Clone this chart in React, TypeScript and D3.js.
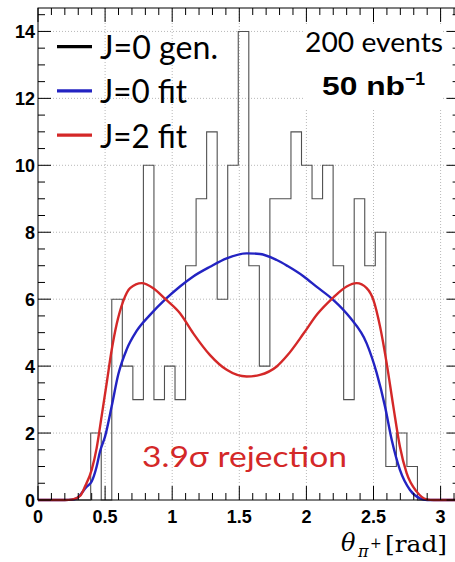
import React from "react";
import * as d3 from "d3";

// histogram of generated J=0 events, 40 bins of width pi/40
const binCounts = [0, 0, 0, 0, 0, 2, 0, 6, 4, 3, 10, 3, 4, 3, 7, 9, 11, 6, 10, 14, 7, 4, 9, 9, 11, 10, 9, 10, 7, 3, 9, 7, 8, 1, 2, 1, 0, 0, 0, 0];

// J=0 fit curve
const j0X = [0, 0.2, 0.25, 0.288, 0.363, 0.4, 0.437, 0.462, 0.5, 0.549, 0.598, 0.661, 0.735, 0.835, 0.95, 1.058, 1.157, 1.282, 1.406, 1.555, 1.654, 1.779, 1.86, 1.98, 2.08, 2.2, 2.325, 2.449, 2.524, 2.586, 2.636, 2.697, 2.772, 2.846, 2.9, 3.1416];
const j0Y = [0, 0, 0.01, 0.05, 0.4, 0.55, 1.0, 1.45, 1.9, 2.8, 3.75, 4.5, 5.05, 5.53, 6.0, 6.38, 6.68, 6.97, 7.22, 7.37, 7.35, 7.17, 6.99, 6.68, 6.36, 5.98, 5.45, 4.68, 3.79, 2.79, 1.79, 0.9, 0.3, 0.05, 0, 0];

// J=2 fit curve
const j2X = [0, 0.2, 0.26, 0.313, 0.35, 0.4, 0.437, 0.474, 0.512, 0.549, 0.586, 0.636, 0.686, 0.773, 0.859, 0.95, 1.058, 1.157, 1.282, 1.406, 1.555, 1.654, 1.779, 1.86, 1.98, 2.08, 2.2, 2.3, 2.375, 2.449, 2.499, 2.549, 2.598, 2.648, 2.697, 2.747, 2.822, 2.896, 2.95, 3.1416];
const j2Y = [0, 0, 0.02, 0.12, 0.4, 0.9, 1.55, 2.5, 3.5, 4.48, 5.25, 5.95, 6.33, 6.48, 6.33, 6.0, 5.58, 4.98, 4.33, 3.89, 3.69, 3.74, 3.99, 4.33, 4.98, 5.55, 6.05, 6.38, 6.48, 6.33, 5.98, 5.18, 4.09, 2.79, 1.59, 0.8, 0.25, 0.02, 0, 0];

const xTickLabels = ["0", "0.5", "1", "1.5", "2", "2.5", "3"];
const yTickLabels = ["0", "2", "4", "6", "8", "10", "12", "14"];

const legendItems = [
  { label: "J=0 gen.", color: "#000000", width: 118 },
  { label: "J=0 fit", color: "#2323c2", width: 87 },
  { label: "J=2 fit", color: "#d42828", width: 87 },
];

const BLUE = "#2323c2";
const RED = "#d42828";

export default function App() {
  const left = 38, top = 8, bottom = 500;
  const x = d3.scaleLinear().domain([0, Math.PI]).range([left, left + 134.2 * Math.PI]);
  const y = d3.scaleLinear().domain([0, 14.7]).range([bottom, top]);
  const right = x(Math.PI);

  const binW = Math.PI / binCounts.length;
  const histPts: [number, number][] = binCounts.map((c, i) => [i * binW, c]);
  histPts.push([Math.PI, binCounts[binCounts.length - 1]]);
  const histLine = d3.line<[number, number]>()
    .x(d => x(d[0])).y(d => y(d[1]))
    .curve(d3.curveStepAfter);

  const j0Path = d3.line<number>().curve(d3.curveMonotoneX)
    .x(d => x(d)).y((d, i) => y(j0Y[i]))(j0X);
  const j2Path = d3.line<number>().curve(d3.curveMonotoneX)
    .x(d => x(d)).y((d, i) => y(j2Y[i]))(j2X);

  const xMinor = d3.range(0, 3.15, 0.1);
  const xMajor = d3.range(0, 3.01, 0.5);
  const yMinor = d3.range(0, 14.7, 0.5);
  const yMajor = d3.range(0, 14.1, 2);

  const sans = "'Liberation Sans', Arial, sans-serif";
  const calib = "Lato, 'Open Sans', sans-serif";

  return (
    <div style={{ position: "absolute", left: 0, top: 0 }}>
      <svg width={455} height={562} style={{ display: "block", background: "#fff" }}>
        <g stroke="#b8b8b8" strokeWidth={1} strokeDasharray="1,2">
          {xMajor.slice(1).map(v => (
            <line key={"gx" + v} x1={x(v)} x2={x(v)} y1={top} y2={bottom} />
          ))}
          {yMajor.slice(1).map(v => (
            <line key={"gy" + v} x1={left} x2={right} y1={y(v)} y2={y(v)} />
          ))}
        </g>
        <rect x={303} y={24} width={140} height={84} fill="#fff" />

        <path d={histLine(histPts) || ""} fill="none" stroke="#505050" strokeWidth={1.1} />
        <path d={j0Path || ""} fill="none" stroke={BLUE} strokeWidth={2.4} />
        <path d={j2Path || ""} fill="none" stroke={RED} strokeWidth={2.4} />

        {/* frame and ticks */}
        <rect x={left} y={top} width={right - left} height={bottom - top} fill="none" stroke="#000" strokeWidth={1} />
        <g stroke="#000" strokeWidth={1}>
          {xMinor.map(v => {
            const len = Math.abs(v * 2 - Math.round(v * 2)) < 1e-6 ? 14 : 7;
            return (
              <g key={"xt" + v}>
                <line x1={x(v)} x2={x(v)} y1={bottom} y2={bottom - len} />
                <line x1={x(v)} x2={x(v)} y1={top} y2={top + len} />
              </g>
            );
          })}
          {yMinor.map(v => {
            const len = Math.abs(v / 2 - Math.round(v / 2)) < 1e-6 ? 13 : 7;
            return (
              <g key={"yt" + v}>
                <line x1={left} x2={left + len} y1={y(v)} y2={y(v)} />
                <line x1={right} x2={right - len} y1={y(v)} y2={y(v)} />
              </g>
            );
          })}
        </g>

        <g fontFamily={sans} fontWeight="bold" fontSize={18} fill="#000">
          {xTickLabels.map((t, i) => (
            <text key={"xl" + t} x={x(xMajor[i])} y={523} textAnchor="middle">{t}</text>
          ))}
          {yTickLabels.map((t, i) => (
            <text key={"yl" + t} x={35} y={y(yMajor[i]) + 6.5} textAnchor="end">{t}</text>
          ))}
        </g>

        {/* axis title */}
        <g fontFamily="'DejaVu Serif', serif" fill="#000">
          <text x={341} y={551} fontSize={24} fontStyle="italic">θ</text>
          <text x={358} y={557} fontSize={16} fontStyle="italic">π</text>
          <text x={370} y={548} fontSize={14}>+</text>
          <text x={385} y={552} fontSize={23} textLength={62} lengthAdjust="spacingAndGlyphs">[rad]</text>
        </g>

        {/* legend */}
        {legendItems.map((d, i) => {
          const cy = 46.7 + i * 44.2;
          return (
            <g key={d.label}>
              <line x1={57} x2={92} y1={cy} y2={cy} stroke={d.color} strokeWidth={3.2} />
              <text x={100} y={cy + 12.5} fontFamily={calib} fontSize={33} fill="#000"
                textLength={d.width} lengthAdjust="spacingAndGlyphs">{d.label}</text>
            </g>
          );
        })}

        <text x={305} y={52} fontFamily={calib} fontSize={26} fill="#000" textLength={138} lengthAdjust="spacingAndGlyphs">200 events</text>
        <text x={322} y={95} fontFamily={sans} fontWeight="bold" fontSize={26} fill="#000" textLength={83} lengthAdjust="spacingAndGlyphs">50 nb</text>
        <text x={405} y={85} fontFamily={sans} fontWeight="bold" fontSize={18} fill="#000" textLength={20} lengthAdjust="spacingAndGlyphs">−1</text>

        <text x={142} y={467} fontFamily={calib} fontSize={29} fill={RED} textLength={205} lengthAdjust="spacingAndGlyphs">3.9σ rejection</text>
      </svg>
    </div>
  );
}
